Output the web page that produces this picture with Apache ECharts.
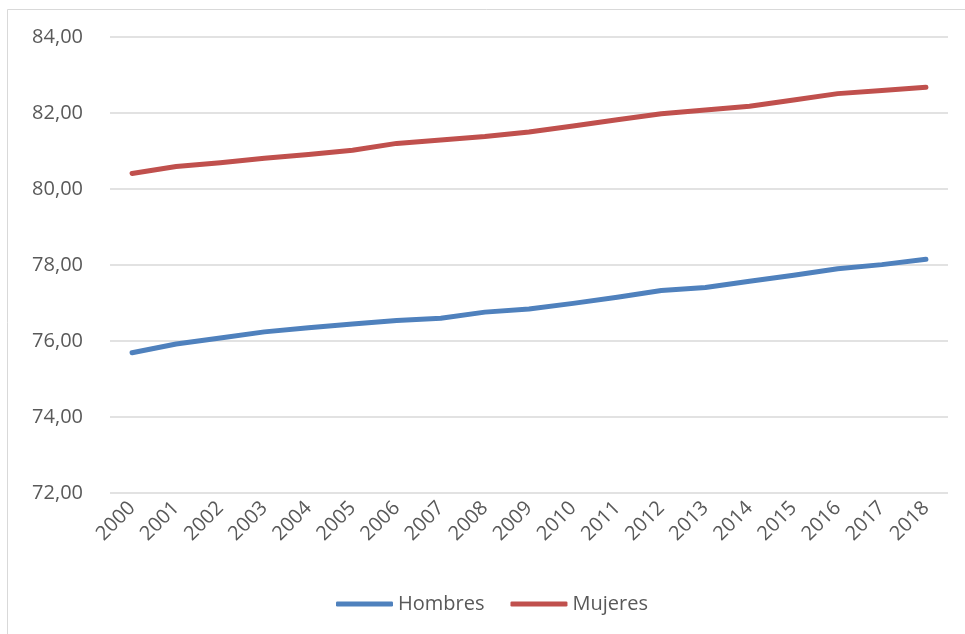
<!DOCTYPE html>
<html>
<head>
<meta charset="utf-8">
<script src="https://cdn.jsdelivr.net/npm/echarts@6/dist/echarts.min.js"></script>
<style>
  html, body { margin: 0; padding: 0; background: #fff; }
  #chart { width: 965px; height: 634px; }
</style>
</head>
<body>
<div id="chart"></div>
<script>
// Esperanza de vida al nacer por sexo, 2000–2018
const years = ['2000','2001','2002','2003','2004','2005','2006','2007','2008','2009',
               '2010','2011','2012','2013','2014','2015','2016','2017','2018'];
const hombres = [75.69, 75.92, 76.08, 76.24, 76.35, 76.45, 76.54, 76.60, 76.76, 76.84,
                 76.99, 77.15, 77.33, 77.41, 77.57, 77.73, 77.90, 78.01, 78.15];
const mujeres = [80.41, 80.59, 80.69, 80.81, 80.91, 81.02, 81.20, 81.29, 81.38, 81.50,
                 81.66, 81.82, 81.98, 82.08, 82.18, 82.34, 82.51, 82.59, 82.68];
const yMin = 72, yMax = 84, yStep = 2;

const textColor = '#595959';
const font = 'Open Sans';

const chart = echarts.init(document.getElementById('chart'), null, { renderer: 'canvas' });
chart.setOption({
  animation: false,
  backgroundColor: '#ffffff',
  textStyle: { fontFamily: font, color: textColor },
  graphic: [{
    type: 'rect',
    shape: { x: 7.5, y: 9.5, width: 1000, height: 700 },
    style: { fill: 'none', stroke: '#D9D9D9', lineWidth: 1 },
    silent: true
  }],
  grid: { left: 110, right: 17, top: 37, bottom: 141, containLabel: false },
  legend: {
    left: 331,
    top: 589,
    icon: 'roundRect',
    itemWidth: 57,
    itemHeight: 5,
    itemGap: 26,
    textStyle: { fontFamily: font, fontSize: 20, color: textColor, lineHeight: 20, padding: [0, 0, 0, 0] },
    data: ['Hombres', 'Mujeres']
  },
  xAxis: {
    type: 'category',
    data: years,
    boundaryGap: true,
    axisLine: { show: false },
    axisTick: { show: false },
    axisLabel: { rotate: 45, margin: 12, fontSize: 20, color: textColor, fontFamily: font, interval: 0 }
  },
  yAxis: {
    type: 'value',
    min: yMin,
    max: yMax,
    interval: yStep,
    axisLine: { show: false },
    axisTick: { show: false },
    splitLine: { lineStyle: { color: '#D9D9D9', width: 1.5 } },
    axisLabel: {
      margin: 27, fontSize: 20, color: textColor, fontFamily: font,
      formatter: v => v.toFixed(2).replace('.', ',')
    }
  },
  series: [
    {
      name: 'Hombres', type: 'line', data: hombres, symbol: 'none',
      itemStyle: { color: '#4F81BD' },
      lineStyle: { color: '#4F81BD', width: 5, cap: 'round', join: 'round' }
    },
    {
      name: 'Mujeres', type: 'line', data: mujeres, symbol: 'none',
      itemStyle: { color: '#C0504D' },
      lineStyle: { color: '#C0504D', width: 5, cap: 'round', join: 'round' }
    }
  ]
});
</script>
</body>
</html>
